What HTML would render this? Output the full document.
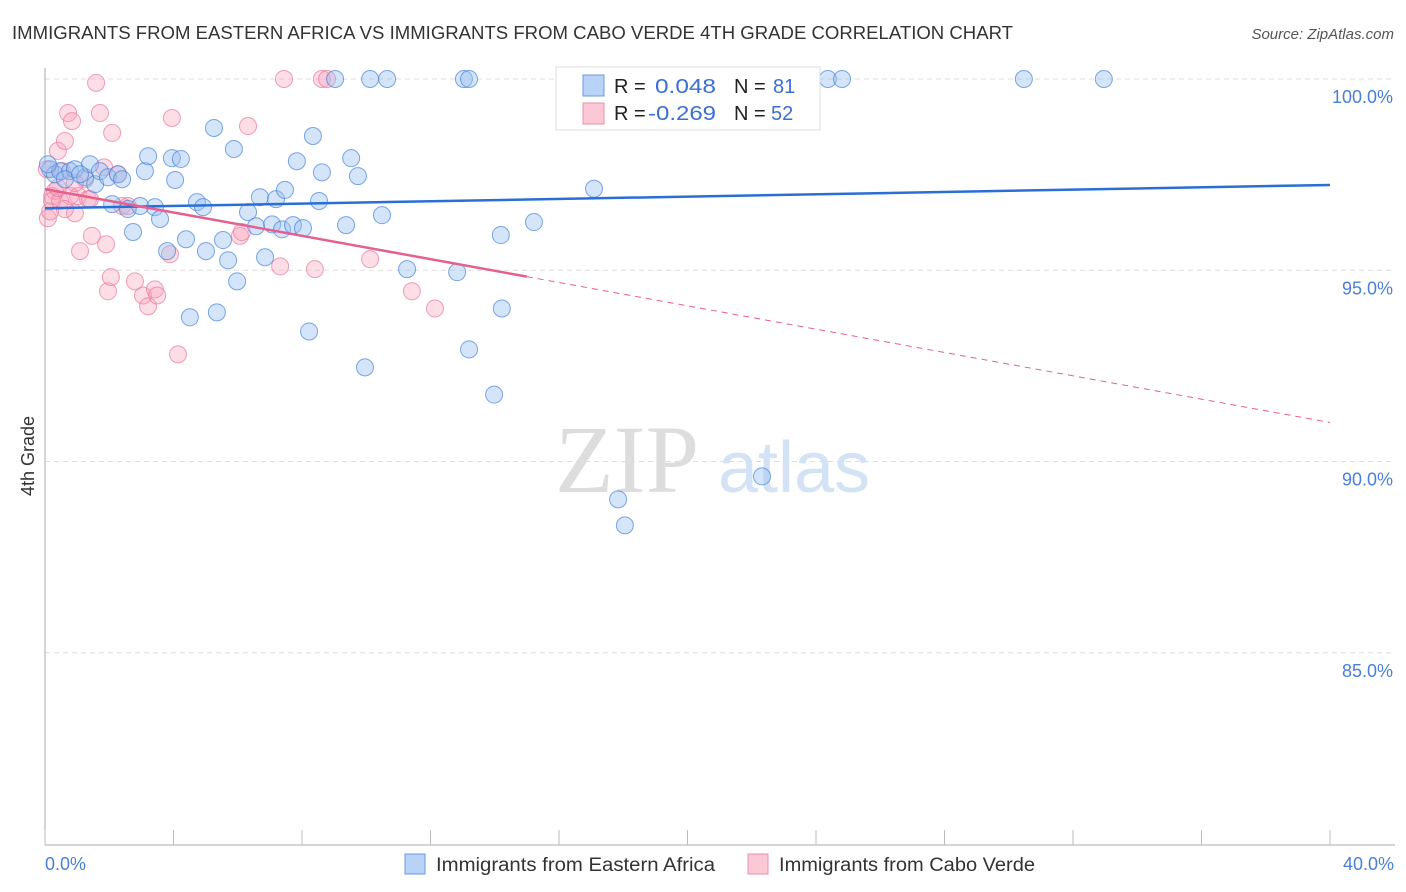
<!DOCTYPE html>
<html><head><meta charset="utf-8"><style>
body{margin:0;background:#fff;font-family:"Liberation Sans",sans-serif;}
svg{display:block}
</style></head><body>
<svg width="1406" height="892" xmlns="http://www.w3.org/2000/svg">
<text x="12" y="39" font-size="18" fill="#333" textLength="1001" lengthAdjust="spacingAndGlyphs">IMMIGRANTS FROM EASTERN AFRICA VS IMMIGRANTS FROM CABO VERDE 4TH GRADE CORRELATION CHART</text>
<text x="1394" y="39" font-size="15" fill="#555" font-style="italic" text-anchor="end">Source: ZipAtlas.com</text>
<text x="555" y="492" font-size="96" fill="#ddd" font-family="Liberation Serif">ZIP</text>
<text x="718" y="492" font-size="72" fill="#d4e2f5">atlas</text>
<g id="grid"></g>
<g id="axes"></g>
<g id="pts"></g>
<g id="lines"></g>
<text transform="translate(34,456) rotate(-90)" font-size="18" fill="#333" text-anchor="middle">4th Grade</text>
<text x="45" y="870" font-size="18" fill="#4a7fd8">0.0%</text>
<text x="1394" y="870" font-size="18" fill="#4a7fd8" text-anchor="end">40.0%</text>
<g>
<rect x="405" y="854" width="20" height="20" fill="#b8d3f7" stroke="#6a9ae0"/>
<text x="436" y="871" font-size="19" fill="#333" textLength="279" lengthAdjust="spacingAndGlyphs">Immigrants from Eastern Africa</text>
<rect x="748" y="854" width="20" height="20" fill="#fcc8d6" stroke="#e890ab"/>
<text x="779" y="871" font-size="19" fill="#333" textLength="256" lengthAdjust="spacingAndGlyphs">Immigrants from Cabo Verde</text>
</g>
<g>
<rect x="556" y="67" width="264" height="63" fill="#fff" stroke="#ddd"/>
<rect x="583" y="75" width="21" height="21" fill="#b8d3f7" stroke="#6a9ae0"/>
<rect x="583" y="103" width="21" height="21" fill="#fcc8d6" stroke="#e890ab"/>
<g font-size="20">
<text x="614" y="93" fill="#222">R =</text>
<text x="655" y="93" fill="#3b6fd4" textLength="61" lengthAdjust="spacingAndGlyphs">0.048</text>
<text x="734" y="93" fill="#222">N =</text>
<text x="773" y="93" fill="#3b6fd4">81</text>
<text x="614" y="120" fill="#222">R =</text>
<text x="648" y="120" fill="#3b6fd4" textLength="68" lengthAdjust="spacingAndGlyphs">-0.269</text>
<text x="734" y="120" fill="#222">N =</text>
<text x="771" y="120" fill="#3b6fd4">52</text>
</g>
</g>
</svg>
<script>
const yTicks=[100,95,90,85];
const yTickLabels=["100.0%","95.0%","90.0%","85.0%"];
const xTicks=[0,4,8,12,16,20,24,28,32,36,40];
const blueX=[0.16,0.31,0.47,0.78,0.93,1.25,1.4,1.56,1.71,1.96,2.27,2.4,2.09,2.58,2.74,2.96,3.11,3.21,3.42,3.58,3.8,3.95,4.05,4.23,4.39,4.51,4.73,4.92,5.01,5.26,5.35,5.54,5.7,5.88,5.98,6.32,6.57,6.69,6.85,7.07,7.19,7.38,7.47,7.72,7.84,8.03,8.22,8.34,8.53,8.62,9.03,9.37,9.53,9.74,9.96,10.12,10.65,10.49,11.27,12.83,13.04,13.2,13.2,13.98,14.19,14.22,15.22,16.5,17.09,17.28,17.84,18.05,22.32,23.28,24.37,24.81,30.47,32.96,0.09,0.62,1.09];
const blueY=[97.64,97.51,97.59,97.59,97.64,97.43,97.77,97.25,97.59,97.43,97.51,97.38,96.73,96.6,96.0,96.68,97.59,97.98,96.65,96.34,95.5,97.93,97.36,97.91,95.81,93.77,96.78,96.65,95.5,98.72,93.9,95.79,95.26,98.17,94.71,96.52,96.15,96.91,95.34,96.2,96.86,96.07,97.1,96.18,97.85,96.1,93.4,98.51,96.81,97.56,100,96.18,97.93,97.46,92.46,100,100,96.44,95.03,94.95,100,100,92.93,91.75,95.92,94.0,96.26,100,97.13,100,89.01,88.33,89.61,100,100,100,100,100,97.77,97.38,97.51];
const pinkX=[0.22,0.09,0.16,0.31,0.4,0.53,0.62,0.72,0.84,0.93,1.03,1.09,1.25,1.34,1.46,1.59,1.71,1.84,1.9,1.96,2.05,2.09,2.27,2.4,2.58,2.8,3.05,3.21,3.42,3.49,3.89,3.95,4.14,6.07,6.13,6.32,7.32,7.44,8.4,8.62,8.78,10.12,11.42,12.14,0.06,0.22,0.47,0.78,0.93,0.62,0.4,1.4];
const pinkY=[96.94,96.36,96.54,97.07,98.12,97.59,98.38,99.11,98.9,96.49,96.94,95.5,97.38,96.86,95.9,99.9,99.11,97.69,95.68,94.45,94.82,98.59,97.51,96.68,96.68,94.71,94.34,94.06,94.5,94.34,95.42,98.98,92.8,95.9,96.0,98.77,95.1,100,95.03,100,100,95.29,94.45,94.0,97.64,96.81,96.81,96.94,97.28,96.6,97.15,96.86];
const blueTrend=[96.62,97.23];
const pinkTrend=[97.12,91.02];
const pinkSolidEnd=15;
const NS="http://www.w3.org/2000/svg";
const X=v=>45+v/40*1285, Y=v=>79+(100-v)*38.25;
function mk(t,a,p){const e=document.createElementNS(NS,t);for(const k in a)e.setAttribute(k,a[k]);document.getElementById(p).appendChild(e);return e;}
yTicks.forEach((t,i)=>{
 const g=mk('line',{x1:45,x2:1395,y1:Y(t),y2:Y(t),stroke:'#ddd','stroke-dasharray':'5,4'},'grid');
 
 
 const l=mk('text',{x:1393,y:Y(t)+24,'font-size':18,fill:'#4a7fd8','text-anchor':'end'},'axes');
 l.textContent=yTickLabels[i];
 
 
});
const ya=mk('line',{x1:45,x2:45,y1:68,y2:845,stroke:'#aaa'},'axes');


const xa=mk('line',{x1:45,x2:1395,y1:845,y2:845,stroke:'#aaa'},'axes');


xTicks.forEach(t=>{
 const e=mk('line',{x1:X(t),x2:X(t),y1:830,y2:845,stroke:'#bbb'},'axes');
 
 
});
pinkX.forEach((v,i)=>{
 const c=mk('circle',{cx:X(v),cy:Y(pinkY[i]),r:8.5,fill:'rgba(248,160,185,0.35)',stroke:'rgba(232,120,155,0.7)','stroke-width':1},'pts');
 
 
});
blueX.forEach((v,i)=>{
 const c=mk('circle',{cx:X(v),cy:Y(blueY[i]),r:8.5,fill:'rgba(150,190,240,0.4)',stroke:'rgba(70,130,220,0.7)','stroke-width':1},'pts');
 
 
});
const bt=mk('line',{x1:X(0),y1:Y(blueTrend[0]),x2:X(40),y2:Y(blueTrend[1]),stroke:'#2a6fd6','stroke-width':2.5},'lines');


const pm=pinkTrend[0]+(pinkTrend[1]-pinkTrend[0])*pinkSolidEnd/40;
const ps=mk('line',{x1:X(0),y1:Y(pinkTrend[0]),x2:X(pinkSolidEnd),y2:Y(pm),stroke:'#e5608e','stroke-width':2.5},'lines');


const pd=mk('line',{x1:X(pinkSolidEnd),y1:Y(pm),x2:X(40),y2:Y(pinkTrend[1]),stroke:'#e5608e','stroke-width':1,'stroke-dasharray':'6,5'},'lines');


</script>
</body></html>
